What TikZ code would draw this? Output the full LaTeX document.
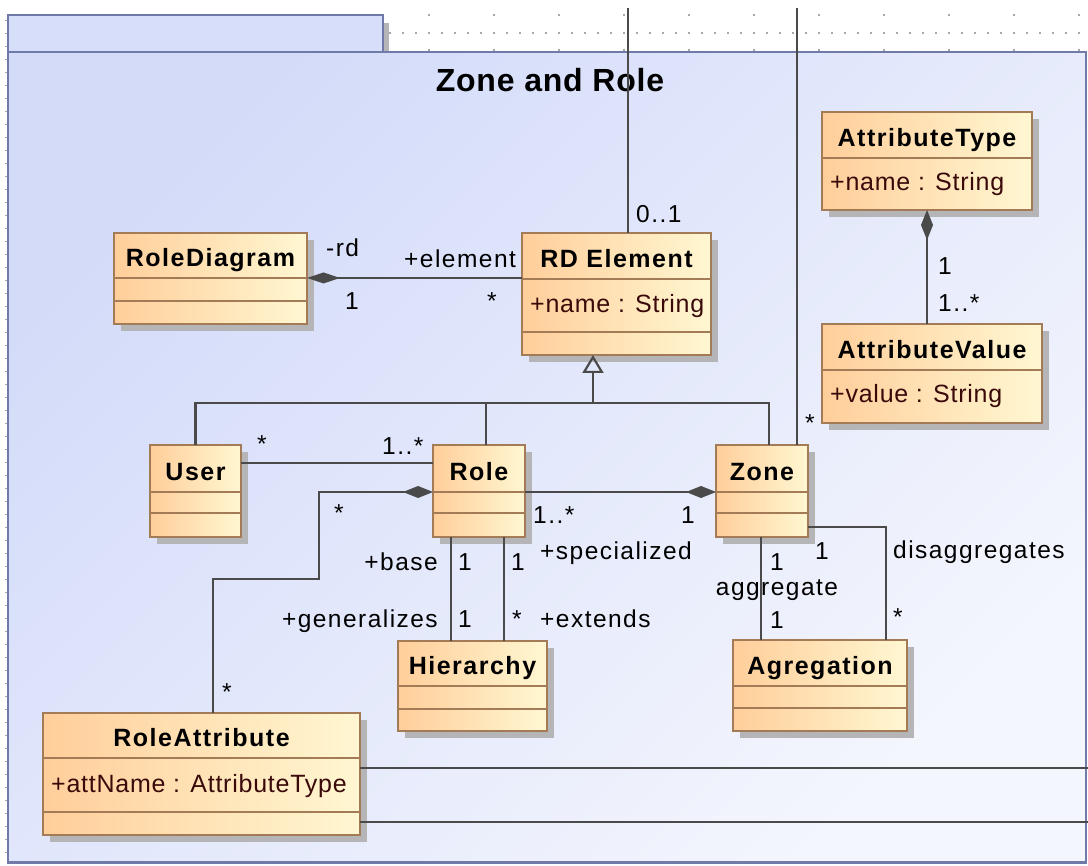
\documentclass[tikz,border=0pt]{standalone}
\usepackage{fontspec}
\setmainfont{Liberation Sans}
\newfontfamily\titlefont{Liberation Sans}[LetterSpace=2.5]
\newfontfamily\namefont{Liberation Sans}[LetterSpace=6]
\newfontfamily\attrfont{Liberation Sans}[LetterSpace=3]
\newfontfamily\lblfont{Liberation Sans}[LetterSpace=6]
\usetikzlibrary{arrows.meta,calc}

\definecolor{pkgborder}{HTML}{6F7AA8}
\definecolor{pkgA}{HTML}{D3DBF9}
\definecolor{pkgB}{HTML}{F4F6FD}
\definecolor{tabc}{HTML}{D6DEFA}
\definecolor{clsL}{HTML}{FFCE9A}
\definecolor{clsR}{HTML}{FFF7D2}
\definecolor{clsborder}{HTML}{A37B57}
\definecolor{shadowc}{HTML}{B5B5B8}
\definecolor{linec}{HTML}{4A4A4A}
\definecolor{attrc}{HTML}{3A0A0A}
\definecolor{gridc}{HTML}{A8A8A8}

\tikzset{
  cls/.style={draw=clsborder, line width=1.8pt, left color=clsL, right color=clsR,
              inner sep=0pt, outer sep=0pt},
  clsrule/.style={draw=clsborder, line width=1.8pt},
  clsname/.style={font={\fontsize{25}{29}\namefont\bfseries}, inner sep=0pt, anchor=base},
  attr/.style={font={\fontsize{25}{29}\attrfont}, text=attrc, inner sep=0pt, anchor=base west},
  lbl/.style={font={\fontsize{24.5}{28}\lblfont}, inner sep=0pt, anchor=base},
  pkgtitle/.style={font={\fontsize{32}{36}\titlefont\bfseries}, inner sep=0pt, anchor=base},
  conn/.style={draw=linec, line width=2.2pt},
  CompTip/.tip={Diamond[length=30pt,width=12pt]},
}

% class box: name, left, top, width, height, first rule, second rule (may be empty), title
\newcommand\umlclass[8]{%
  \fill[shadowc] ({#2+7},{#3+7}) rectangle ++(#4,#5);
  \node[cls, minimum width=#4pt, minimum height=#5pt, anchor=north west] (#1) at (#2,#3) {};
  \draw[clsrule] ({#2},{#3+#6}) -- ++(#4,0);
  \if\relax\detokenize{#7}\relax\else\draw[clsrule] ({#2},{#3+#7}) -- ++(#4,0);\fi
  \node[clsname] (#1-name) at ({#2+#4/2},{#3+#6-11.5}) {#8};
}

\begin{document}
\begin{tikzpicture}[x=1pt,y=-1pt]
\useasboundingbox (0,0) rectangle (1088,866);
\fill[white] (0,0) rectangle (1088,866);

% canvas grid around the package
\foreach \x in {390,403,...,1088} \fill[gridc] (\x-0.6,32.4) rectangle ++(1.2,1.2);
\foreach \x in {429,494,...,1088} {
  \fill[gridc] (\x-0.6,14) rectangle ++(1.2,2.4);
  \fill[gridc] (\x-0.6,49) rectangle ++(1.2,2.4);
}
\foreach \y in {20,33,...,860} \draw[gridc, line width=0.8pt] (5,\y) -- (8,\y);

% package frame with its tab
\fill[shadowc] (384,23) rectangle (389,52);
\fill[tabc] (8,15) rectangle (383,52);
\draw[pkgborder, line width=2.5pt] (8,15) rectangle (383,52);
\shade[top color=pkgA, bottom color=pkgB, shading angle=45] (8,52) rectangle (1086,862.5);
\draw[pkgborder, line width=2.5pt] (8,52) rectangle (1086,862.5);
\node[pkgtitle] (pkg-title) at (550,92) {Zone and Role};

% classes
\umlclass{rd}{114}{233}{193}{91}{45}{68}{RoleDiagram}
\umlclass{rde}{522}{233}{189}{122}{46}{99}{RD Element}
\umlclass{at}{822}{112}{210}{98}{46}{}{AttributeType}
\umlclass{av}{822}{324}{220}{99}{46}{}{AttributeValue}
\umlclass{user}{150}{445}{91}{92}{47}{68}{User}
\umlclass{role}{433}{445}{92}{92}{47}{68}{Role}
\umlclass{zone}{716}{445}{92}{92}{47}{68}{Zone}
\umlclass{hier}{398}{641}{149}{90}{45}{68}{Hierarchy}
\umlclass{agr}{733}{640}{174}{91}{46}{68}{Agregation}
\umlclass{ra}{43}{713}{317}{122}{45}{99}{RoleAttribute}

\node[attr] (rde-attr) at (530,313) {+name : String};
\node[attr] (at-attr) at (830,191) {+name : String};
\node[attr] (av-attr) at (830,403) {+value : String};
\node[attr] (ra-attr) at (51,792) {+attName : AttributeType};

% free ends and bends
\coordinate (topA) at (628,8);
\coordinate (topB) at (797,8);
\coordinate (gen) at (593,403);
\coordinate (busM) at (486,403);
\coordinate (busR) at (769,403);
\coordinate (rdrow) at (0,278);
\coordinate (urow) at (0,463);
\coordinate (crow) at (0,492);
\coordinate (drow) at (0,527);
\coordinate (bendA) at (319,492);
\coordinate (bendB) at (319,579);
\coordinate (bendC) at (213,579);
\coordinate (raA) at (1088,768);
\coordinate (raB) at (1088,822);

% connectors
\draw[conn] (rde.north -| topA) -- (topA);
\draw[conn] (zone.north -| topB) -- (topB);
\draw[conn, {Diamond[length=33pt,width=11pt]}-] (rd.east |- rdrow) -- (rde.west |- rdrow);
\draw[conn, CompTip-] (at.south) -- (at.south |- av.north);
\draw[conn] (user.north) |- (busR) -- (busR |- zone.north);
\draw[conn] (busM |- role.north) -- (busM);
\draw[conn, -{Triangle[open,length=18pt,width=21pt]}] (gen) -- (gen |- rde.south);
\draw[conn] (user.east |- urow) -- (role.west |- urow);
\draw[conn, CompTip-] (role.west |- crow) -- (bendA) -- (bendB) -- (bendC) -- (ra.north -| bendC);
\draw[conn, -CompTip] (role.east |- crow) -- (zone.west |- crow);
\draw[conn] (role.south -| 451,0) -- (hier.north -| 451,0);
\draw[conn] (role.south -| 504,0) -- (hier.north -| 504,0);
\draw[conn] (zone.south -| 761,0) -- (agr.north -| 761,0);
\draw[conn] (zone.east |- drow) -| (agr.north -| 886,0);
\draw[conn] (ra.east |- raA) -- (raA);
\draw[conn] (ra.east |- raB) -- (raB);

% association end labels
\node[lbl, anchor=base west] (l01) at (636,223) {0..1};
\node[lbl, anchor=base west] (l02) at (404,268) {+element};
\node[lbl, anchor=base west] (l03) at (326,257) {-rd};
\node[lbl] (l04) at (352,310) {1};
\node[lbl] (l05) at (492,310) {*};
\node[lbl, anchor=base west] (l06) at (938,275) {1};
\node[lbl, anchor=base west] (l07) at (938,312) {1..*};
\node[lbl] (l08) at (810,432) {*};
\node[lbl] (l09) at (262,453) {*};
\node[lbl, anchor=base west] (l10) at (382,455) {1..*};
\node[lbl] (l11) at (339,522) {*};
\node[lbl] (l12) at (227,700) {*};
\node[lbl, anchor=base west] (l13) at (533,524) {1..*};
\node[lbl] (l14) at (688,524) {1};
\node[lbl, anchor=base east] (l15) at (438,570) {+base};
\node[lbl] (l16) at (465,570) {1};
\node[lbl] (l17) at (518,570) {1};
\node[lbl, anchor=base west] (l18) at (540,560) {+specialized};
\node[lbl, anchor=base east] (l19) at (438,627) {+generalizes};
\node[lbl] (l20) at (465,627) {1};
\node[lbl] (l21) at (517,627) {*};
\node[lbl, anchor=base west] (l22) at (540,627) {+extends};
\node[lbl] (l23) at (777,570) {1};
\node[lbl] (l24) at (777,595) {aggregate};
\node[lbl] (l25) at (777,628) {1};
\node[lbl] (l26) at (822,560) {1};
\node[lbl, anchor=base west] (l27) at (893,559) {disaggregates};
\node[lbl] (l28) at (898,626) {*};
\end{tikzpicture}
\end{document}
